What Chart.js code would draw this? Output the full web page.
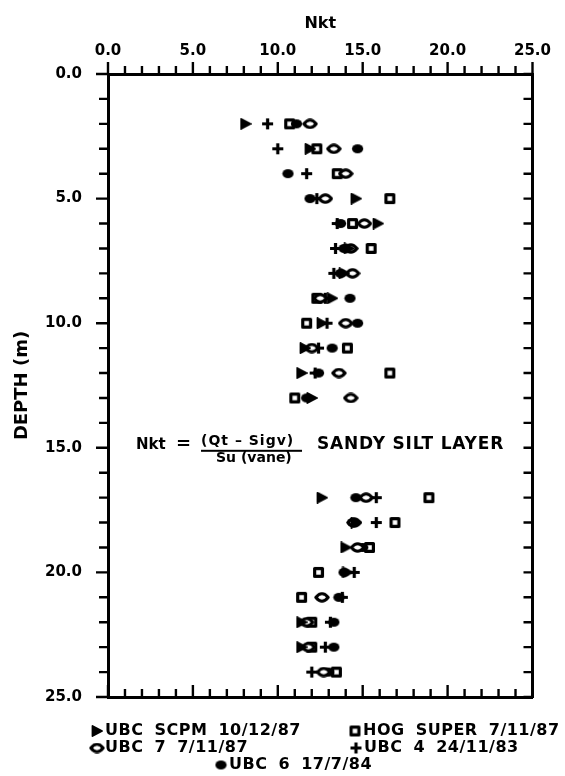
<!DOCTYPE html>
<html>
<head>
<meta charset="utf-8">
<script src="https://cdn.jsdelivr.net/npm/chart.js@4/dist/chart.umd.min.js"></script>
<style>
  html, body { margin: 0; padding: 0; background: #fff; }
  #wrap { width: 565px; height: 776px; }
</style>
</head>
<body>
<div id="wrap"><canvas id="chart" width="565" height="776"></canvas></div>
<script>
/* Nkt vs depth — CPT cone factor profile */

// tick labels (both axes 0..25, labelled every 5)
const nktTicks = [0, 5, 10, 15, 20, 25];
const depthTicks = [0, 5, 10, 15, 20, 25];

// series (depth in m, Nkt)
const scpmDepth = [2, 3, 5, 6, 7, 8, 9, 10, 11, 12, 13, 17, 18, 19, 20, 22, 23];
const scpmNkt   = [8.1, 11.9, 14.6, 15.9, 14.2, 13.9, 13.2, 12.6, 11.6, 11.4, 12.0, 12.6, 14.6, 14.0, 14.1, 11.4, 11.4];

const ubc7Depth = [2, 3, 4, 5, 6, 7, 8, 9, 10, 11, 12, 13, 17, 18, 19, 21, 22, 23, 24];
const ubc7Nkt   = [11.9, 13.3, 14.0, 12.8, 15.1, 14.3, 14.4, 12.5, 14.0, 12.0, 13.6, 14.3, 15.2, 14.5, 14.7, 12.6, 11.7, 11.8, 12.7];

const ubc6Depth = [2, 3, 4, 5, 6, 7, 8, 9, 10, 11, 12, 13, 17, 18, 19, 20, 21, 22, 23, 24];
const ubc6Nkt   = [11.1, 14.7, 10.6, 11.9, 13.7, 13.9, 13.7, 14.25, 14.7, 13.2, 12.4, 11.7, 14.6, 14.4, 15.0, 13.9, 13.6, 13.3, 13.3, 13.0];

const hogDepth  = [2, 3, 4, 5, 6, 7, 9, 10, 11, 12, 13, 17, 18, 19, 20, 21, 22, 23, 24];
const hogNkt    = [10.7, 12.3, 13.5, 16.6, 14.4, 15.5, 12.3, 11.7, 14.1, 16.6, 11.0, 18.9, 16.9, 15.4, 12.4, 11.4, 12.0, 12.0, 13.45];

const ubc4Depth = [2, 3, 4, 5, 6, 7, 8, 9, 10, 11, 12, 17, 18, 20, 21, 22, 23, 24];
const ubc4Nkt   = [9.4, 10.0, 11.7, 12.3, 13.5, 13.4, 13.3, 12.8, 12.9, 12.4, 12.2, 15.8, 15.8, 14.5, 13.8, 13.1, 12.8, 12.0];

const seriesNames = ['UBC SCPM 10/12/87', 'UBC 7 7/11/87', 'UBC 6 17/7/84', 'HOG SUPER 7/11/87', 'UBC 4 24/11/83'];

// annotation anchored on the chart scales
const noteDepth = 15;
const noteNkt = 1.65;

const FONT = '"DejaVu Sans", "Liberation Sans", sans-serif';

// ---- marker glyphs (drawn once, used as pointStyle) ----
function glyph(w, h, draw) {
  const c = document.createElement('canvas');
  c.width = w; c.height = h;
  const g = c.getContext('2d');
  g.fillStyle = '#000'; g.strokeStyle = '#000';
  g.lineJoin = 'round';
  draw(g);
  return c;
}

const triMark = glyph(12, 12, g => {
  g.beginPath();
  g.moveTo(1.5, 1); g.lineTo(11, 6); g.lineTo(1.5, 11); g.closePath();
  g.lineWidth = 1.8; g.fill(); g.stroke();
});
const lensMark = glyph(16, 11, g => {
  g.beginPath();
  g.moveTo(1.8, 5.5); g.quadraticCurveTo(8, -2, 14.2, 5.5); g.quadraticCurveTo(8, 13, 1.8, 5.5);
  g.closePath();
  g.fillStyle = '#fff'; g.fill();
  g.lineWidth = 3; g.stroke();
});
const blobMark = glyph(13, 11, g => {
  g.beginPath(); g.ellipse(6.5, 5.5, 5.6, 4.6, 0, 0, Math.PI * 2); g.fill();
});
const boxMark = glyph(13, 13, g => {
  g.fillStyle = '#fff'; g.fillRect(2, 2, 9, 9);
  g.lineWidth = 3.2; g.strokeRect(2.6, 2.6, 7.8, 7.8);
});
const plusMark = glyph(13, 13, g => {
  g.lineWidth = 3.2;
  g.beginPath(); g.moveTo(6.5, 1); g.lineTo(6.5, 12); g.moveTo(1, 6.5); g.lineTo(12, 6.5); g.stroke();
});

const marks = [triMark, lensMark, blobMark, boxMark, plusMark];

function pts(depths, nkts) {
  return depths.map((d, i) => ({ x: nkts[i], y: d }));
}

const datasets = [
  [scpmDepth, scpmNkt], [ubc7Depth, ubc7Nkt], [ubc6Depth, ubc6Nkt], [hogDepth, hogNkt], [ubc4Depth, ubc4Nkt]
].map(([d, n], i) => ({
  label: seriesNames[i],
  data: pts(d, n),
  pointStyle: marks[i],
  pointRadius: 5,
  showLine: false
}));

// ---- tick marks: top/left outward, bottom/right inward ----
const tickMarks = {
  id: 'tickMarks',
  afterDraw(chart) {
    const { ctx, chartArea: a, scales } = chart;
    ctx.save();
    ctx.strokeStyle = '#000';
    ctx.lineWidth = 2.4;
    ctx.beginPath();
    for (let v = scales.x.min; v <= scales.x.max; v++) {
      const len = v % 5 === 0 ? 12 : 8;
      const px = scales.x.getPixelForValue(v);
      ctx.moveTo(px, a.top); ctx.lineTo(px, a.top - len);
      ctx.moveTo(px, a.bottom); ctx.lineTo(px, a.bottom - len);
    }
    for (let v = scales.y.min; v <= scales.y.max; v++) {
      const len = v % 5 === 0 ? 12 : 9;
      const py = scales.y.getPixelForValue(v);
      ctx.moveTo(a.left, py); ctx.lineTo(a.left - len, py);
      ctx.moveTo(a.right, py); ctx.lineTo(a.right - 9, py);
    }
    ctx.stroke();
    ctx.restore();
  }
};

// ---- formula note inside the plot ----
const note = {
  id: 'note',
  afterDraw(chart) {
    const { ctx, scales } = chart;
    const x0 = scales.x.getPixelForValue(noteNkt);
    const y0 = scales.y.getPixelForValue(noteDepth);
    ctx.save();
    ctx.fillStyle = '#000';
    ctx.textBaseline = 'middle';
    ctx.textAlign = 'left';
    ctx.font = 'bold 15px ' + FONT;
    ctx.fillText('Nkt', x0, y0 - 3);
    ctx.font = 'bold 18px ' + FONT;
    ctx.fillText('=', x0 + 40, y0 - 3);
    ctx.font = 'bold 14px ' + FONT;
    ctx.letterSpacing = '1px';
    ctx.fillText('(Qt – Sigv)', x0 + 65, y0 - 6);
    ctx.letterSpacing = '0px';
    ctx.fillText('Su (vane)', x0 + 80, y0 + 11);
    ctx.fillRect(x0 + 65, y0 + 2, 101, 2);
    ctx.font = 'bold 17px ' + FONT;
    ctx.letterSpacing = '0.8px';
    ctx.fillText('SANDY SILT LAYER', x0 + 181, y0 - 3);
    ctx.restore();
  }
};

// ---- legend under the plot ----
const legendSpots = [
  { x: 97, y: 731 }, { x: 97, y: 748 }, { x: 221, y: 765 }, { x: 355, y: 731 }, { x: 356, y: 748 }
];
const legendBlock = {
  id: 'legendBlock',
  afterDraw(chart) {
    const { ctx } = chart;
    ctx.save();
    ctx.fillStyle = '#000';
    ctx.textBaseline = 'middle';
    ctx.textAlign = 'left';
    ctx.font = 'bold 16px ' + FONT;
    ctx.letterSpacing = '0.5px';
    ctx.wordSpacing = '5px';
    chart.data.datasets.forEach((ds, i) => {
      const p = legendSpots[i];
      const m = ds.pointStyle;
      ctx.drawImage(m, p.x - m.width / 2, p.y - m.height / 2);
      ctx.fillText(ds.label, p.x + 8, p.y);
    });
    ctx.restore();
  }
};

const tickFont = { family: FONT, size: 15, weight: 'bold' };
const axisBorder = { display: true, color: '#000', width: 3 };
const noGrid = { drawOnChartArea: false, drawTicks: false };

new Chart(document.getElementById('chart'), {
  type: 'scatter',
  data: { datasets },
  options: {
    responsive: false,
    animation: false,
    layout: { padding: { top: 0, left: 0, right: 17, bottom: 79 } },
    plugins: { legend: { display: false }, tooltip: { enabled: false } },
    scales: {
      x: {
        type: 'linear', position: 'top', min: 0, max: 25,
        afterBuildTicks: s => { s.ticks = nktTicks.map(v => ({ value: v })); },
        afterFit: s => { s.height = 74; },
        ticks: { color: '#000', font: tickFont, padding: 14, maxRotation: 0, callback: v => v.toFixed(1) },
        title: { display: true, text: 'Nkt', color: '#000', font: { family: FONT, size: 16, weight: 'bold' }, padding: { top: 14, bottom: 0 } },
        grid: noGrid, border: axisBorder
      },
      y: {
        type: 'linear', position: 'left', min: 0, max: 25, reverse: true,
        afterBuildTicks: s => { s.ticks = depthTicks.map(v => ({ value: v })); },
        afterFit: s => { s.width = 108; },
        ticks: { color: '#000', font: tickFont, padding: 26, callback: v => v.toFixed(1) },
        title: { display: true, text: 'DEPTH (m)', color: '#000', font: { family: FONT, size: 18, weight: 'bold' }, padding: { top: 12, bottom: 0 } },
        grid: noGrid, border: axisBorder
      },
      x2: {
        type: 'linear', position: 'bottom', min: 0, max: 25,
        afterFit: s => { s.height = 0; },
        ticks: { display: false }, grid: noGrid, border: axisBorder
      },
      y2: {
        type: 'linear', position: 'right', min: 0, max: 25, reverse: true,
        afterFit: s => { s.width = 0; },
        ticks: { display: false }, grid: noGrid, border: axisBorder
      }
    }
  },
  plugins: [tickMarks, note, legendBlock]
});
</script>
</body>
</html>
